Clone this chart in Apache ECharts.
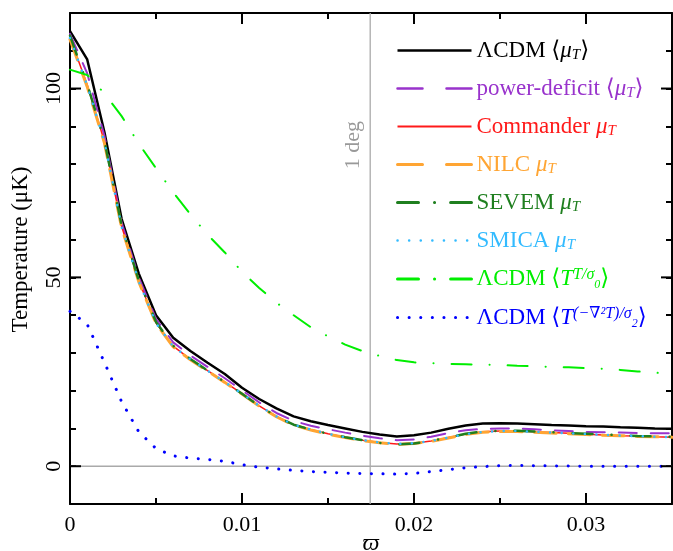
<!DOCTYPE html>
<html>
<head>
<meta charset="utf-8">
<script src="https://cdn.jsdelivr.net/npm/echarts@6/dist/echarts.min.js"></script>
<style>
html,body{margin:0;padding:0;background:#fff;}
#chart{width:673px;height:551px;}
</style>
</head>
<body>
<div id="chart"></div>
<script>
// ---- data ----
const xValues = [0, 0.001, 0.002, 0.003, 0.004, 0.005, 0.006, 0.007, 0.008, 0.009,
  0.010, 0.011, 0.012, 0.013, 0.014, 0.015, 0.016, 0.017, 0.018, 0.019,
  0.020, 0.021, 0.022, 0.023, 0.024, 0.025, 0.026, 0.027, 0.028, 0.029,
  0.030, 0.031, 0.032, 0.033, 0.034, 0.035];

const lcdmMuT = [115.2, 107.7, 88.5, 65.5, 51.0, 40.0, 34.0, 30.5, 27.4, 24.4,
  20.8, 17.8, 15.3, 13.2, 11.9, 10.9, 10.0, 9.1, 8.4, 7.9,
  8.2, 8.9, 9.9, 10.8, 11.3, 11.4, 11.3, 11.1, 10.9, 10.8,
  10.6, 10.5, 10.3, 10.2, 10.0, 9.9];

const powerDeficitMuT = [114.5, 104.0, 87.5, 64.5, 50.0, 39.0, 32.8, 29.3, 26.3, 23.3,
  20.1, 16.9, 14.1, 12.0, 10.7, 9.8, 8.9, 8.1, 7.4, 6.9,
  7.1, 7.8, 8.8, 9.5, 9.9, 10.0, 10.0, 9.8, 9.5, 9.3,
  9.1, 9.0, 8.9, 8.8, 8.7, 8.7];

const commanderMuT = [113.5, 101.0, 86.0, 63.5, 49.0, 38.0, 31.8, 28.3, 25.3, 22.3,
  19.2, 16.0, 13.2, 11.0, 9.7, 8.6, 7.7, 6.9, 6.3, 5.9,
  6.1, 6.7, 7.6, 8.5, 9.1, 9.3, 9.3, 9.1, 8.9, 8.7,
  8.5, 8.3, 8.1, 8.0, 7.8, 7.7];

const nilcMuT = [113.0, 100.5, 85.6, 63.2, 48.8, 37.8, 31.6, 28.2, 25.2, 22.2,
  19.1, 15.9, 13.1, 10.9, 9.6, 8.5, 7.6, 6.8, 6.2, 5.8,
  6.0, 6.6, 7.5, 8.4, 9.0, 9.2, 9.2, 9.0, 8.8, 8.6,
  8.4, 8.2, 8.1, 7.9, 7.8, 7.7];

const sevemMuT = [114.0, 101.2, 86.2, 63.8, 49.2, 38.2, 31.9, 28.4, 25.3, 22.3,
  19.2, 16.0, 13.2, 11.0, 9.7, 8.6, 7.7, 6.9, 6.2, 5.8,
  6.0, 6.7, 7.6, 8.6, 9.2, 9.4, 9.4, 9.2, 9.0, 8.8,
  8.6, 8.4, 8.2, 8.0, 7.9, 7.8];

const smicaMuT = [113.4, 100.8, 85.9, 63.4, 48.9, 37.9, 31.7, 28.3, 25.3, 22.3,
  19.2, 16.0, 13.2, 11.0, 9.7, 8.6, 7.7, 6.9, 6.3, 5.9,
  6.1, 6.7, 7.6, 8.5, 9.1, 9.3, 9.3, 9.1, 8.9, 8.7,
  8.5, 8.3, 8.1, 8.0, 7.8, 7.7];

const lcdmTT = [105.0, 103.6, 98.7, 92.7, 85.4, 78.9, 72.5, 66.7, 61.3, 56.6,
  51.5, 47.2, 43.3, 40.0, 36.8, 34.4, 32.2, 30.5, 29.2, 28.1,
  27.5, 27.3, 27.1, 27.0, 26.9, 26.8, 26.6, 26.5, 26.3, 26.2,
  26.0, 25.8, 25.5, 25.1, 24.8, 24.4];

const lcdmTLap = [41.0, 37.6, 27.5, 17.1, 9.1, 4.7, 2.75, 2.15, 1.8, 1.3,
  0.4, -0.25, -0.7, -1.1, -1.4, -1.6, -1.8, -1.95, -2.0, -2.1,
  -1.9, -1.4, -0.9, -0.4, -0.1, 0.15, 0.2, 0.15, 0.1, 0.05,
  0.0, 0.0, 0.0, 0.0, 0.0, 0.0];

const xMajorTicks = [0.01, 0.02, 0.03];
const yMajorTicks = [0, 50, 100];
const oneDegree = 0.0174533;
const xTitle = 'ϖ';

// ---- chart ----
const FONT = "'Liberation Serif', 'DejaVu Serif', serif";
const chart = echarts.init(document.getElementById('chart'), null, {renderer: 'canvas'});

function pairs(arr) { return xValues.map((x, i) => [x, arr[i]]); }

const rich = {
  n: {fontFamily: FONT, fontSize: 23, lineHeight: 24},
  i: {fontFamily: FONT, fontSize: 23, lineHeight: 24, fontStyle: 'italic'},
  s: {fontFamily: FONT, fontSize: 15, lineHeight: 14, fontStyle: 'italic', verticalAlign: 'bottom'},
  f: {fontFamily: FONT, fontSize: 16, lineHeight: 16, fontStyle: 'italic', verticalAlign: 'top'},
  fs: {fontFamily: FONT, fontSize: 12, lineHeight: 8, fontStyle: 'italic', verticalAlign: 'bottom'}
};

const labels = {
  'lcdm': '{n|ΛCDM ⟨}{i|μ}{s|T}{n|⟩}',
  'pd': '{n|power-deficit ⟨}{i|μ}{s|T}{n|⟩}',
  'commander': '{n|Commander }{i|μ}{s|T}',
  'nilc': '{n|NILC }{i|μ}{s|T}',
  'sevem': '{n|SEVEM }{i|μ}{s|T}',
  'smica': '{n|SMICA }{i|μ}{s|T}',
  'tt': '{n|ΛCDM ⟨}{i|T}{f|T/σ}{fs|0}{n|⟩}',
  'tl': '{n|ΛCDM ⟨}{i|T}{f|(−∇²T)/σ}{fs|2}{n|⟩}'
};

const C = {
  black: '#000000', purple: '#9933cc', red: '#ff1a1a', orange: '#ffa533',
  green: '#1f7f1f', smica: '#33bbff', lime: '#00ee00', blue: '#0000ff'
};

function line(name, data, color, width, type, z) {
  return {
    name: name, type: 'line', data: pairs(data), showSymbol: false, symbol: 'none',
    xAxisIndex: 0, yAxisIndex: 0, z: z || 2,
    lineStyle: {color: color, width: width, type: type, cap: Array.isArray(type) ? 'round' : 'butt'},
    itemStyle: {color: color}, animation: false, silent: true
  };
}

const series = [
  line('lcdm', lcdmMuT, C.black, 2.5, 'solid', 3),
  line('pd', powerDeficitMuT, C.purple, 2, [18, 14], 3),
  line('commander', commanderMuT, C.red, 1.5, 'solid', 3),
  line('nilc', nilcMuT, C.orange, 3, [22, 12], 3),
  line('sevem', sevemMuT, C.green, 2.5, [20, 19, 0.1, 19], 3),
  line('smica', smicaMuT, C.smica, 2.5, [0.1, 11.5], 3),
  line('tt', lcdmTT, C.lime, 2, [20, 18, 0.1, 18], 3),
  line('tl', lcdmTLap, C.blue, 3, [0.1, 11.5], 3)
];

function legendItem(name, color, width, dash) {
  return {
    name: name, textStyle: {color: color},
    lineStyle: {type: dash || 'solid', width: width, cap: dash ? 'round' : 'butt'}
  };
}

const axisCommon = {
  axisLine: {show: true, onZero: false, lineStyle: {color: '#000', width: 2}},
  axisTick: {show: true, inside: true, length: 6, lineStyle: {color: '#000', width: 2}},
  splitLine: {show: false}
};

const option = {
  animation: false,
  backgroundColor: '#ffffff',
  grid: {left: 70, right: 1, top: 13, bottom: 47, containLabel: false, outerBoundsMode: 'none'},
  legend: {
    orient: 'vertical', left: 396, top: 39, itemWidth: 74, itemHeight: 14, itemGap: 14.5,
    padding: 0, selectedMode: false,
    itemStyle: {color: 'rgba(0,0,0,0)', borderColor: 'rgba(0,0,0,0)', borderWidth: 0},
    textStyle: {fontFamily: FONT, fontSize: 23, rich: rich},
    formatter: function (n) { return labels[n]; },
    data: [
      legendItem('lcdm', C.black, 2.5),
      legendItem('pd', C.purple, 2.5, [25, 24]),
      legendItem('commander', C.red, 2),
      legendItem('nilc', C.orange, 3, [25, 24]),
      legendItem('sevem', C.green, 3, [21, 16, 0.1, 16]),
      legendItem('smica', C.smica, 2.5, [0.1, 11.5]),
      legendItem('tt', C.lime, 3, [21, 16, 0.1, 16]),
      legendItem('tl', C.blue, 3, [0.1, 11.5])
    ]
  },
  xAxis: [
    Object.assign({}, axisCommon, {
      type: 'value', position: 'bottom', min: 0, max: 0.035, interval: 0.005,
      axisLabel: {
        show: true, margin: 10, color: '#000', fontFamily: FONT, fontSize: 22,
        showMinLabel: true, showMaxLabel: true,
        formatter: function (v) {
          const k = v / 0.01, r = Math.round(k);
          if (Math.abs(k - r) > 1e-6) return '';
          return r === 0 ? '0' : String(r / 100);
        }
      }
    }),
    Object.assign({}, axisCommon, {
      type: 'value', position: 'top', min: 0, max: 0.035, interval: 0.005,
      axisLabel: {show: false}
    })
  ],
  yAxis: [
    Object.assign({}, axisCommon, {
      type: 'value', position: 'left', min: -10, max: 120, interval: 10,
      name: 'Temperature (μK)', nameLocation: 'middle', nameGap: 38, nameRotate: 90,
      nameMoveOverlap: false,
      nameTextStyle: {fontFamily: FONT, fontSize: 23, color: '#000', padding: [0, 0, 0, 18]},
      axisLabel: {
        show: true, rotate: 90, margin: 5, color: '#000', fontFamily: FONT, fontSize: 22,
        formatter: function (v) {
          const r = Math.round(v);
          return (r % 50 === 0) ? String(r) : '';
        }
      }
    }),
    Object.assign({}, axisCommon, {
      type: 'value', position: 'right', min: -10, max: 120, interval: 10,
      axisLabel: {show: false}
    })
  ],
  series: series
};

chart.setOption(option);

// reference lines, major ticks (longer), x title and the "1 deg" annotation, placed through the axes' scales
const px = v => chart.convertToPixel({xAxisIndex: 0}, v);
const py = v => chart.convertToPixel({yAxisIndex: 0}, v);
const L = px(0), R = px(0.035), T = py(120), B = py(-10);
const MAJ = 11;
const g = [];
const x1deg = px(oneDegree), y0 = py(0);
g.push({type: 'line', shape: {x1: L, y1: y0, x2: R, y2: y0}, style: {stroke: '#aaaaaa', lineWidth: 1.3}, z: 1, silent: true});
g.push({type: 'line', shape: {x1: x1deg, y1: T, x2: x1deg, y2: B}, style: {stroke: '#aaaaaa', lineWidth: 1.3}, z: 1, silent: true});
yMajorTicks.forEach(v => {
  const y = py(v);
  g.push({type: 'line', shape: {x1: L, y1: y, x2: L + MAJ, y2: y}, style: {stroke: '#000', lineWidth: 2}, z: 10, silent: true});
  g.push({type: 'line', shape: {x1: R - MAJ, y1: y, x2: R, y2: y}, style: {stroke: '#000', lineWidth: 2}, z: 10, silent: true});
});
xMajorTicks.forEach(v => {
  const x = px(v);
  g.push({type: 'line', shape: {x1: x, y1: B, x2: x, y2: B - MAJ}, style: {stroke: '#000', lineWidth: 2}, z: 10, silent: true});
  g.push({type: 'line', shape: {x1: x, y1: T, x2: x, y2: T + MAJ}, style: {stroke: '#000', lineWidth: 2}, z: 10, silent: true});
});
g.push({
  type: 'text', x: (L + R) / 2, y: B + 40, silent: true, z: 10,
  style: {text: xTitle, fill: '#000', font: "italic 24px 'Liberation Serif', 'DejaVu Serif', serif", align: 'center', verticalAlign: 'middle'}
});
g.push({
  type: 'text', x: x1deg - 17, y: py(85), rotation: Math.PI / 2, silent: true, z: 10,
  style: {text: '1 deg', fill: '#999999', font: "22px 'Liberation Serif', 'DejaVu Serif', serif", align: 'center', verticalAlign: 'middle'}
});
chart.setOption({graphic: g});
</script>
</body>
</html>
